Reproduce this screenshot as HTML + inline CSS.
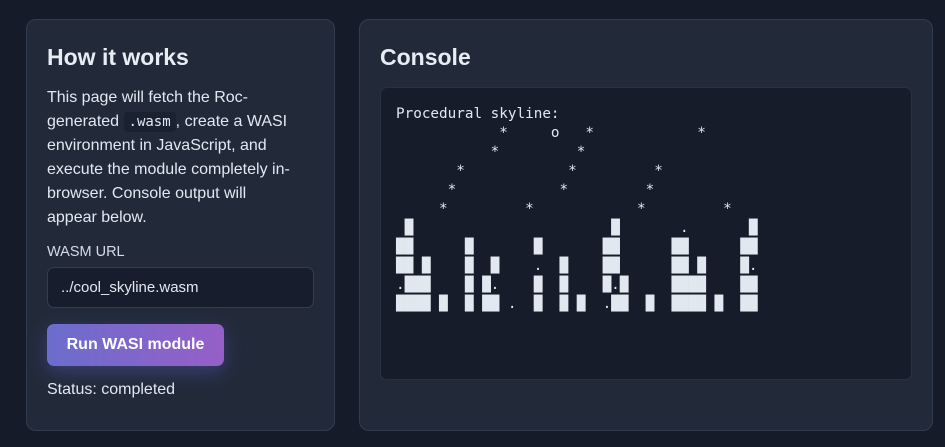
<!DOCTYPE html>
<html><head><meta charset="utf-8"><style>
html,body{margin:0;padding:0;width:945px;height:447px;overflow:hidden;background:#161b29;font-family:"Liberation Sans",sans-serif;color:#e2e8f0}
.card{position:absolute;background:#222a3a;border:1px solid #323c4e;border-radius:10px;box-sizing:border-box}
h2{position:absolute;margin:0;font-size:23px;font-weight:bold;color:#e8edf4}
.p{position:absolute;left:20px;top:66px;width:262px;font-size:16px;line-height:24px;color:#e2e8f0}
code{font-family:"DejaVu Sans Mono",monospace;font-size:14px;background:#1a2131;border-radius:4px;padding:2px 5px}
.con{position:absolute;left:20px;top:67px;width:532px;height:293px;background:#171c2b;border:1px solid #283142;border-radius:7px;box-sizing:border-box}
pre{position:absolute;left:15px;top:17px;margin:0;font-family:"DejaVu Sans Mono",monospace;font-size:14.3px;line-height:19px;color:#e2e8f0}
</style></head><body>
<div class="card" style="left:26px;top:19px;width:309px;height:412px">
<h2 style="left:20px;top:24px">How it works</h2>
<div class="p">This page will fetch the Roc-generated <code>.wasm</code>, create a WASI environment in JavaScript, and execute the module completely in-browser. Console output will<br>appear below.</div>
<div style="position:absolute;left:20px;top:224px;font-size:14.5px;color:#d5dbe4">WASM URL</div>
<div style="position:absolute;left:20px;top:247px;width:267px;height:41px;box-sizing:border-box;background:#181d2d;border:1px solid #343e50;border-radius:7px;font-size:15px;line-height:39px;padding-left:13px;color:#e2e8f0">../cool_skyline.wasm</div>
<div style="position:absolute;left:20px;top:304px;width:177px;height:42px;border-radius:7px;background:linear-gradient(90deg,#6b6dcc,#965fc7);box-shadow:0 6px 18px rgba(100,100,220,0.35);color:#fff;font-weight:bold;font-size:16px;line-height:42px;text-align:center">Run WASI module</div>
<div style="position:absolute;left:20px;top:361px;font-size:16px;color:#e2e8f0">Status: completed</div>
</div>
<div class="card" style="left:359px;top:19px;width:574px;height:412px">
<h2 style="left:20px;top:24px">Console</h2>
<div class="con"><pre>Procedural skyline:
            *     o   *            *
           *         *
       *            *         *
      *            *         *
     *         *            *         *
 █                       █       .       █
██      █       █       ██      ██      ██
██ █    █  █    .  █    ██      ██ █    █.
.███    █ █.    █  █    █.█     ████    ██
████ █  █ ██ .  █  █ █  .██  █  ████ █  ██</pre></div>
</div>
</body></html>
